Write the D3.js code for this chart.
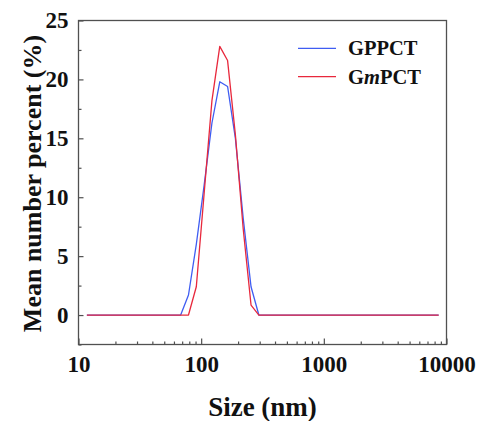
<!DOCTYPE html>
<html>
<head>
<meta charset="utf-8">
<script src="https://cdn.jsdelivr.net/npm/d3@7"></script>
<style>
  html, body { margin: 0; padding: 0; background: #fff; }
  svg { display: block; }
  text { font-family: "Liberation Serif", "Times New Roman", serif; font-weight: bold; fill: #111; }
</style>
</head>
<body>
<svg id="chart" width="478" height="421"></svg>
<script>
// Size bins (nm) of the number distribution
const sizes = [11.7, 58.77, 68.06, 78.82, 91.28, 105.7, 122.4, 141.8, 164.2, 190.1, 220.2, 255.0, 295.3, 342.0, 8635];
// Mean number percent (%) per bin
const gppct = [0, 0, 0, 1.7, 6.0, 11.0, 16.3, 19.8, 19.4, 15.0, 8.2, 2.4, 0, 0, 0];
const gmpct = [0, 0, 0, 0, 2.4, 10.3, 18.2, 22.8, 21.6, 15.3, 7.3, 0.85, 0, 0, 0];
const seriesNames = ["GPPCT", "GmPCT"];
const seriesColors = ["#3f5df2", "#e8283c"];
const xTickValues = [10, 100, 1000, 10000];
const yTickValues = [0, 5, 10, 15, 20, 25];

const svg = d3.select("#chart");
const m = { left: 78.5, right: 446.5, top: 20.5, bottom: 344.5 };
const serif = '"Liberation Serif", "Times New Roman", serif';

const x = d3.scaleLog().domain([10, 10000]).range([m.left, m.right]);
const y = d3.scaleLinear().domain([-2.5, 25]).range([m.bottom, m.top]);

// Curves
const line = d3.line().x(d => x(d[0])).y(d => y(d[1]));
[gppct, gmpct].forEach((vals, i) => {
  svg.append("path")
    .datum(sizes.map((s, k) => [s, vals[k]]))
    .attr("d", line)
    .attr("fill", "none")
    .attr("stroke", seriesColors[i])
    .attr("stroke-width", 1.3)
    .attr("stroke-linejoin", "round");
});

// Frame
svg.append("rect")
  .attr("x", m.left).attr("y", m.top)
  .attr("width", m.right - m.left).attr("height", m.bottom - m.top)
  .attr("fill", "none").attr("stroke", "#505050").attr("stroke-width", 1.3);

// Bottom axis: major + minor ticks pointing inward
const minorX = [];
for (let d = 10; d < 10000; d *= 10) for (let k = 2; k <= 9; k++) minorX.push(d * k);
const xMinor = d3.axisBottom(x).tickValues(minorX).tickSize(-3).tickFormat("");
const xMajor = d3.axisBottom(x).tickValues(xTickValues).tickSize(-6).tickPadding(11).tickFormat(d3.format("d"));
const gxMinor = svg.append("g").attr("transform", `translate(0,${m.bottom})`).call(xMinor);
const gx = svg.append("g").attr("transform", `translate(0,${m.bottom})`).call(xMajor);
[gxMinor, gx].forEach(g => {
  g.select(".domain").remove();
  g.selectAll("line").attr("stroke", "#505050").attr("stroke-width", 1.2);
});
gx.selectAll("text").style("font-size", "23px").style("font-family", serif)
  .style("font-weight", "bold").attr("fill", "#111").attr("dy", "0.71em");

// Left axis: major + minor ticks pointing inward
const minorY = d3.range(-2.5, 25.01, 2.5).filter(v => v % 5 !== 0);
const yMinor = d3.axisLeft(y).tickValues(minorY).tickSize(-3).tickFormat("");
const yMajor = d3.axisLeft(y).tickValues(yTickValues).tickSize(-5).tickPadding(10);
const gyMinor = svg.append("g").attr("transform", `translate(${m.left},0)`).call(yMinor);
const gy = svg.append("g").attr("transform", `translate(${m.left},0)`).call(yMajor);
[gyMinor, gy].forEach(g => {
  g.select(".domain").remove();
  g.selectAll("line").attr("stroke", "#505050").attr("stroke-width", 1.2);
});
gy.selectAll("text").style("font-size", "23px").style("font-family", serif)
  .style("font-weight", "bold").attr("fill", "#111");

// Axis titles
svg.append("text")
  .attr("x", (m.left + m.right) / 2 + 0).attr("y", 416)
  .attr("text-anchor", "middle").style("font-size", "27px")
  .text("Size (nm)");
svg.append("text")
  .attr("transform", "translate(41,183.5) rotate(-90)")
  .attr("text-anchor", "middle").style("font-size", "26px")
  .text("Mean number percent (%)");

// Legend
const legend = svg.append("g");
seriesNames.forEach((name, i) => {
  const ly = 48.3 + i * 28.4;
  legend.append("line")
    .attr("x1", 298).attr("x2", 336).attr("y1", ly).attr("y2", ly)
    .attr("stroke", seriesColors[i]).attr("stroke-width", 1.3);
  const t = legend.append("text").attr("x", 348).attr("y", ly + 7).style("font-size", "20.5px");
  if (name === "GmPCT") {
    t.append("tspan").text("G");
    t.append("tspan").attr("font-style", "italic").text("m");
    t.append("tspan").text("PCT");
  } else {
    t.text(name);
  }
});
</script>
</body>
</html>
